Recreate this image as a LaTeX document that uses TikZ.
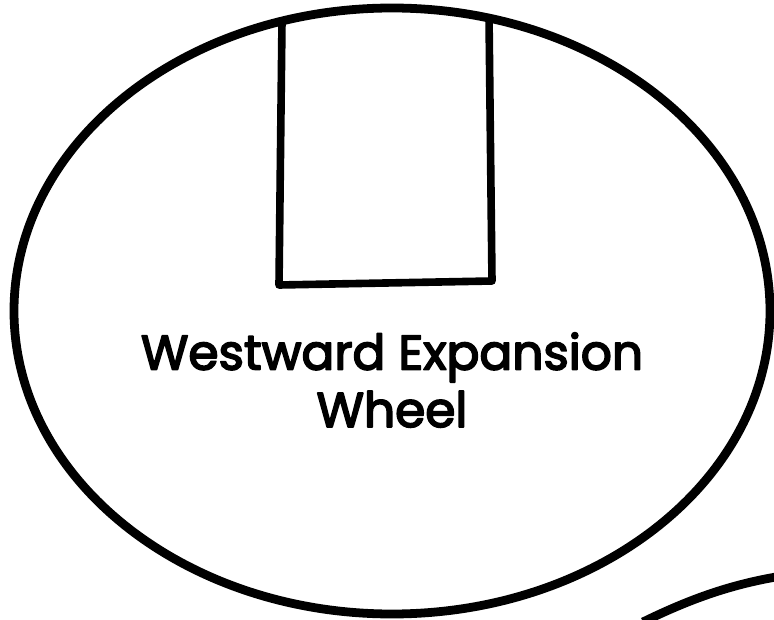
\documentclass[tikz,border=0pt]{standalone}
\usepackage{fontspec}
\setmainfont{Poppins}
\newfontfamily\wheelfont[FakeBold=3.5]{Poppins}
\begin{document}
\begin{tikzpicture}[x=0.03cm, y=-0.03cm, line width=7.5pt, line join=round]
			\useasboundingbox (0, 0) rectangle (774, 620);
			% wheel
			\draw (392, 311) ellipse (378 and 303);
			% window cut into the wheel
			\draw[line width=6.5pt] (282, 21) -- (279, 285) -- (492, 281) -- (489, 16);
			\node[align=center, font=\fontsize{41.5}{49}\wheelfont] (title) at (392, 380) {Westward Expansion\\Wheel};
			% next wheel, only its edge shows
			\draw (643, 622) .. controls (690, 599) and (730, 585) .. (776, 577);
		\end{tikzpicture}
\end{document}
